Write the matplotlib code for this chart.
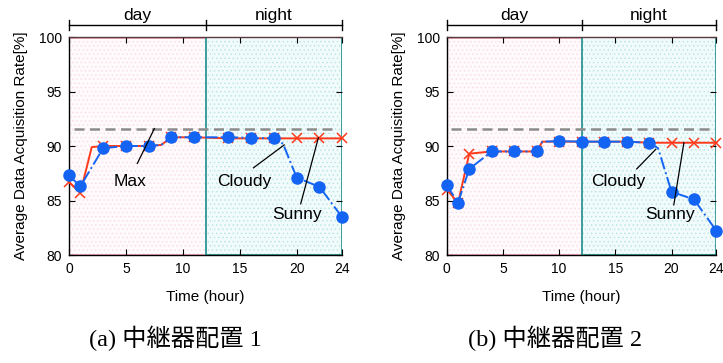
import matplotlib
matplotlib.use("Agg")
import matplotlib.pyplot as plt

plt.rcParams['font.family'] = ['Liberation Sans', 'DejaVu Sans']
plt.rcParams['hatch.linewidth'] = 0.5

# (a) relay layout 1
a_sunny_x = [0, 1, 2, 3, 5, 7, 8.1, 9, 11, 14, 16, 18, 20, 22, 24]
a_sunny_y = [86.7, 85.7, 89.9, 90.0, 90.0, 90.0, 90.1, 90.8, 90.8, 90.7, 90.7, 90.7, 90.7, 90.7, 90.7]
a_sunny_mk = [0, 1, 3, 4, 5, 7, 8, 9, 10, 11, 12, 13, 14]
a_cloudy_x = [0, 1, 3, 5, 7, 8.1, 9, 11, 14, 16, 18, 18.8, 20, 22, 24]
a_cloudy_y = [87.3, 86.3, 89.8, 90.0, 90.0, 90.1, 90.8, 90.8, 90.8, 90.75, 90.7, 90.2, 87.1, 86.25, 83.45]
a_cloudy_mk = [0, 1, 2, 3, 4, 6, 7, 8, 9, 10, 12, 13, 14]

# (b) relay layout 2
b_sunny_x = [0, 1, 2, 4, 6, 8, 8.5, 10, 12, 14, 16, 18, 20, 22, 24]
b_sunny_y = [86.0, 84.8, 89.3, 89.5, 89.5, 89.5, 90.4, 90.4, 90.4, 90.4, 90.4, 90.3, 90.3, 90.3, 90.3]
b_sunny_mk = [0, 1, 2, 3, 4, 5, 7, 8, 9, 10, 11, 12, 13, 14]
b_cloudy_x = [0, 1, 2, 4, 6, 8, 8.5, 10, 12, 14, 16, 18, 18.8, 20, 22, 24]
b_cloudy_y = [86.4, 84.8, 87.9, 89.5, 89.5, 89.5, 90.4, 90.45, 90.4, 90.4, 90.4, 90.3, 89.8, 85.8, 85.1, 82.2]
b_cloudy_mk = [0, 1, 2, 3, 4, 5, 7, 8, 9, 10, 11, 13, 14, 15]

max_rate = [91.6, 91.55]
captions = ['(a) 中継器配置 1', '(b) 中継器配置 2']

# label text position, arrow start, arrow end
a_notes = [('Max', (5.4, 86.7), (6.0, 88.4), (7.5, 91.6)),
           ('Cloudy', (15.4, 86.7), (16.2, 88.0), (18.9, 90.1)),
           ('Sunny', (20.0, 83.7), (20.35, 84.7), (21.9, 90.75))]
b_notes = [('Cloudy', (15.3, 86.7), (16.9, 87.9), (18.6, 89.7)),
           ('Sunny', (19.85, 83.7), (20.2, 84.6), (21.1, 90.3))]

red = '#ff3a1a'
blue = '#1464f4'
teal = '#3a9e9e'
pink = '#f0a0b4'

fig = plt.figure(figsize=(7.23, 3.63), dpi=100)
ax_a = fig.add_axes([0.0954, 0.2975, 0.378, 0.6005])
ax_b = fig.add_axes([0.618, 0.2975, 0.373, 0.6005])

panels = [
    (ax_a, a_sunny_x, a_sunny_y, a_sunny_mk, a_cloudy_x, a_cloudy_y, a_cloudy_mk, max_rate[0], a_notes),
    (ax_b, b_sunny_x, b_sunny_y, b_sunny_mk, b_cloudy_x, b_cloudy_y, b_cloudy_mk, max_rate[1], b_notes),
]

for ax, sx, sy, smk, cx, cy, cmk, mx, notes in panels:
    ax.axvspan(0, 12, facecolor='#fffafc', edgecolor='#f9dbe4', hatch='....', lw=0, zorder=0)
    ax.axvspan(12, 24, facecolor='#f1fbfb', edgecolor='#b8e4e4', hatch='....', lw=0, zorder=0)
    ax.axvspan(0, 12, ymax=0.995, fill=False, edgecolor=pink, lw=1.2, zorder=1)
    ax.axvspan(12, 24, fill=False, edgecolor=teal, lw=1.4, zorder=1)

    ax.plot([0.4, 23.5], [mx, mx], color='#8c8c8c', ls='--', lw=1.8, dashes=(4, 2.2), zorder=2)
    ax.plot(sx, sy, color=red, lw=1.4, marker='x', ms=7, mew=1.1, markevery=smk, zorder=3, clip_on=False)
    ax.plot(cx, cy, color=blue, lw=1.4, ls='-.', marker='o', ms=8, markevery=cmk, zorder=4, clip_on=False)

    for label, tpos, p0, p1 in notes:
        ax.plot([p0[0], p1[0]], [p0[1], p1[1]], color='black', lw=0.9, zorder=5)
        ax.text(tpos[0], tpos[1], label, ha='center', va='center', fontsize=12.5, zorder=6)

    ax.set_xlim(0, 24)
    ax.set_ylim(80, 100)
    ax.set_xticks([0, 5, 10, 15, 20, 24])
    ax.set_yticks([80, 85, 90, 95, 100])
    ax.tick_params(direction='in', top=True, right=True, labelsize=10, length=4, pad=5)
    for s in ax.spines.values():
        s.set_linewidth(1.0)
    ax.spines['top'].set_color('#5a3a40')
    ax.spines['right'].set_visible(False)
    ax.set_xlabel('Time (hour)', fontsize=11, labelpad=10)
    ax.set_ylabel('Average Data Acquisition Rate[%]', fontsize=11, labelpad=8)

    # day / night bracket above the axes
    tr = ax.get_xaxis_transform()
    ax.plot([0, 24], [1.055, 1.055], color='black', lw=1.0, transform=tr, clip_on=False)
    for xv in [0, 12, 24]:
        ax.plot([xv, xv], [1.03, 1.08], color='black', lw=1.0, transform=tr, clip_on=False)
    ax.text(6, 1.10, 'day', ha='center', va='center', fontsize=12.5, transform=tr)
    ax.text(18, 1.10, 'night', ha='center', va='center', fontsize=12.5, transform=tr)

fig.text(175 / 723, 1 - 338 / 363, captions[0], ha='center', va='center', fontsize=17.5,
         family=['Liberation Serif', 'Noto Sans CJK JP'])
fig.text(555 / 723, 1 - 338 / 363, captions[1], ha='center', va='center', fontsize=17.5,
         family=['Liberation Serif', 'Noto Sans CJK JP'])

fig.savefig('out.png', dpi=100)
